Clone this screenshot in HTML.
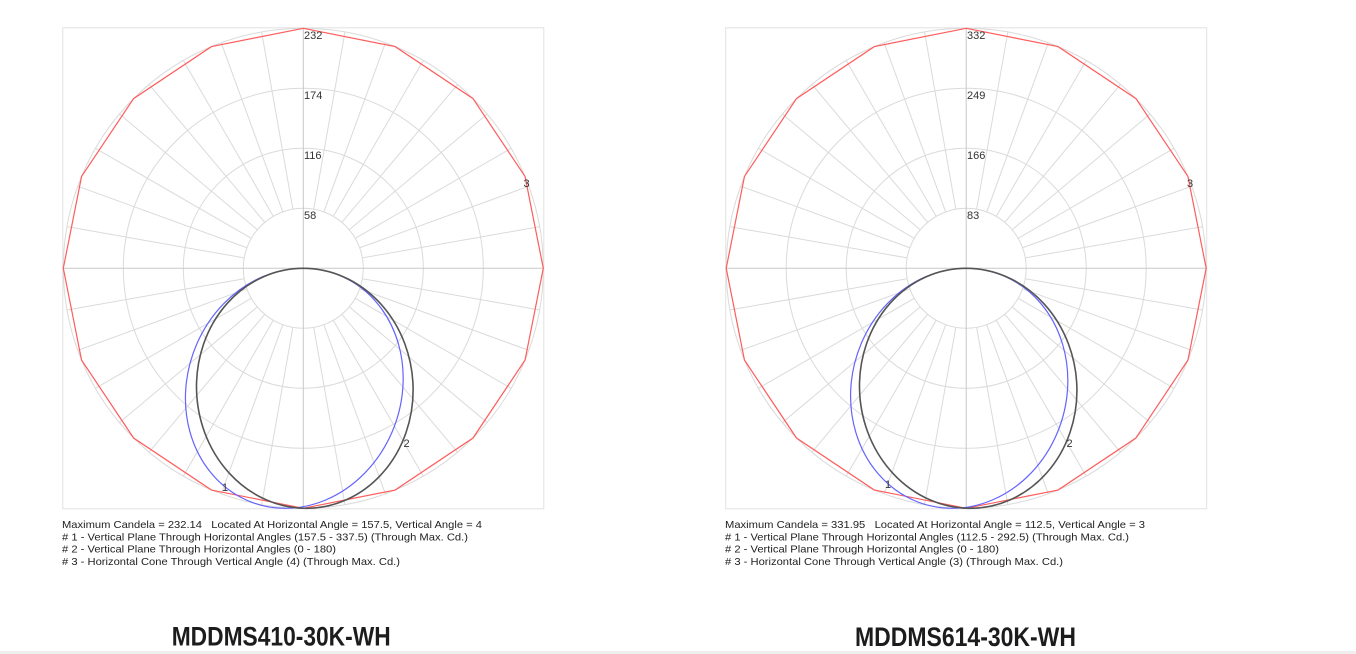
<!DOCTYPE html>
<html>
<head>
<meta charset="utf-8">
<style>
  html,body{margin:0;padding:0;background:#fff;}
  body{width:1356px;height:654px;overflow:hidden;}
  svg{display:block;}
  .tick{font-family:"Liberation Sans",Arial,sans-serif;font-size:11px;fill:#333;}
  .cap{font-family:"Liberation Sans",Arial,sans-serif;font-size:10.5px;fill:#222;white-space:pre;}
  .ttl{font-family:"Liberation Sans Narrow","Liberation Sans",Arial,sans-serif;font-size:27px;font-weight:bold;fill:#1c1c1c;}
</style>
</head>
<body>
<svg width="1356" height="654" viewBox="0 0 1356 654" xmlns="http://www.w3.org/2000/svg">
  <defs>
    <g id="grid">
      <rect x="-240.5" y="-240.5" width="481" height="481" fill="#fff" stroke="#e2e2e2" stroke-width="1"/>
      <g fill="none" stroke="#dadada" stroke-width="1">
        <circle r="60"/><circle r="120"/><circle r="180"/><circle r="240"/>
        <line x1="0" y1="-60" x2="0" y2="-240" transform="rotate(10)"/>
        <line x1="0" y1="-60" x2="0" y2="-240" transform="rotate(20)"/>
        <line x1="0" y1="-60" x2="0" y2="-240" transform="rotate(30)"/>
        <line x1="0" y1="-60" x2="0" y2="-240" transform="rotate(40)"/>
        <line x1="0" y1="-60" x2="0" y2="-240" transform="rotate(50)"/>
        <line x1="0" y1="-60" x2="0" y2="-240" transform="rotate(60)"/>
        <line x1="0" y1="-60" x2="0" y2="-240" transform="rotate(70)"/>
        <line x1="0" y1="-60" x2="0" y2="-240" transform="rotate(80)"/>
        <line x1="0" y1="-60" x2="0" y2="-240" transform="rotate(100)"/>
        <line x1="0" y1="-60" x2="0" y2="-240" transform="rotate(110)"/>
        <line x1="0" y1="-60" x2="0" y2="-240" transform="rotate(120)"/>
        <line x1="0" y1="-60" x2="0" y2="-240" transform="rotate(130)"/>
        <line x1="0" y1="-60" x2="0" y2="-240" transform="rotate(140)"/>
        <line x1="0" y1="-60" x2="0" y2="-240" transform="rotate(150)"/>
        <line x1="0" y1="-60" x2="0" y2="-240" transform="rotate(160)"/>
        <line x1="0" y1="-60" x2="0" y2="-240" transform="rotate(170)"/>
        <line x1="0" y1="-60" x2="0" y2="-240" transform="rotate(190)"/>
        <line x1="0" y1="-60" x2="0" y2="-240" transform="rotate(200)"/>
        <line x1="0" y1="-60" x2="0" y2="-240" transform="rotate(210)"/>
        <line x1="0" y1="-60" x2="0" y2="-240" transform="rotate(220)"/>
        <line x1="0" y1="-60" x2="0" y2="-240" transform="rotate(230)"/>
        <line x1="0" y1="-60" x2="0" y2="-240" transform="rotate(240)"/>
        <line x1="0" y1="-60" x2="0" y2="-240" transform="rotate(250)"/>
        <line x1="0" y1="-60" x2="0" y2="-240" transform="rotate(260)"/>
        <line x1="0" y1="-60" x2="0" y2="-240" transform="rotate(280)"/>
        <line x1="0" y1="-60" x2="0" y2="-240" transform="rotate(290)"/>
        <line x1="0" y1="-60" x2="0" y2="-240" transform="rotate(300)"/>
        <line x1="0" y1="-60" x2="0" y2="-240" transform="rotate(310)"/>
        <line x1="0" y1="-60" x2="0" y2="-240" transform="rotate(320)"/>
        <line x1="0" y1="-60" x2="0" y2="-240" transform="rotate(330)"/>
        <line x1="0" y1="-60" x2="0" y2="-240" transform="rotate(340)"/>
        <line x1="0" y1="-60" x2="0" y2="-240" transform="rotate(350)"/>
      </g>
      <g stroke="#c8c8c8" stroke-width="1">
        <line x1="-240" y1="0" x2="240" y2="0"/>
        <line x1="0" y1="-240" x2="0" y2="240"/>
      </g>
      <polygon fill="none" stroke="#ff5c5c" stroke-width="1.2"
        points="0,-240 91.84,-221.73 169.71,-169.71 221.73,-91.84 240,0 221.73,91.84 169.71,169.71 91.84,221.73 0,240 -91.84,221.73 -169.71,169.71 -221.73,91.84 -240,0 -221.73,-91.84 -169.71,-169.71 -91.84,-221.73"/>
    </g>
    <clipPath id="capclip"><rect x="0" y="510" width="1356" height="57"/></clipPath>
  </defs>

  <!-- LEFT PLOT -->
  <g transform="translate(303.3,268.3)">
    <use href="#grid"/>
    <circle r="1" fill="none" stroke="#6464ff" stroke-width="1.2" vector-effect="non-scaling-stroke" transform="matrix(108.5,0,-9,120,-9,120)"/>
    <circle r="1" fill="none" stroke="#555" stroke-width="1.6" vector-effect="non-scaling-stroke" transform="matrix(108.3,0,1.5,120,1.5,120)"/>
  </g>
  <text class="tick" x="304" y="39">232</text>
  <text class="tick" x="304" y="99">174</text>
  <text class="tick" x="304" y="159">116</text>
  <text class="tick" x="304" y="219">58</text>
  <text class="tick" x="523.5" y="187">3</text>
  <text class="tick" x="403.5" y="447">2</text>
  <text class="tick" x="222" y="491">1</text>

  <!-- RIGHT PLOT -->
  <g transform="translate(966.2,268.3)">
    <use href="#grid"/>
    <circle r="1" fill="none" stroke="#6464ff" stroke-width="1.2" vector-effect="non-scaling-stroke" transform="matrix(108.4,0,-7,120,-7,120)"/>
    <circle r="1" fill="none" stroke="#555" stroke-width="1.6" vector-effect="non-scaling-stroke" transform="matrix(108.7,0,2,120,2,120)"/>
  </g>
  <text class="tick" x="967" y="39">332</text>
  <text class="tick" x="967" y="99">249</text>
  <text class="tick" x="967" y="159">166</text>
  <text class="tick" x="967" y="219">83</text>
  <text class="tick" x="1187" y="187">3</text>
  <text class="tick" x="1066.5" y="447">2</text>
  <text class="tick" x="885" y="488">1</text>

  <!-- CAPTIONS -->
  <g clip-path="url(#capclip)">
    <text class="cap" x="62" y="528" textLength="420" lengthAdjust="spacingAndGlyphs">Maximum Candela = 232.14   Located At Horizontal Angle = 157.5, Vertical Angle = 4</text>
    <text class="cap" x="62" y="540.3" textLength="406" lengthAdjust="spacingAndGlyphs"># 1 - Vertical Plane Through Horizontal Angles (157.5 - 337.5) (Through Max. Cd.)</text>
    <text class="cap" x="62" y="552.6" textLength="274" lengthAdjust="spacingAndGlyphs"># 2 - Vertical Plane Through Horizontal Angles (0 - 180)</text>
    <text class="cap" x="62" y="565" textLength="338" lengthAdjust="spacingAndGlyphs"># 3 - Horizontal Cone Through Vertical Angle (4) (Through Max. Cd.)</text>

    <text class="cap" x="725" y="528" textLength="420" lengthAdjust="spacingAndGlyphs">Maximum Candela = 331.95   Located At Horizontal Angle = 112.5, Vertical Angle = 3</text>
    <text class="cap" x="725" y="540.3" textLength="404" lengthAdjust="spacingAndGlyphs"># 1 - Vertical Plane Through Horizontal Angles (112.5 - 292.5) (Through Max. Cd.)</text>
    <text class="cap" x="725" y="552.6" textLength="274" lengthAdjust="spacingAndGlyphs"># 2 - Vertical Plane Through Horizontal Angles (0 - 180)</text>
    <text class="cap" x="725" y="565" textLength="338" lengthAdjust="spacingAndGlyphs"># 3 - Horizontal Cone Through Vertical Angle (3) (Through Max. Cd.)</text>
  </g>

  <!-- TITLES -->
  <text class="ttl" x="171.7" y="645.7" textLength="219" lengthAdjust="spacingAndGlyphs">MDDMS410-30K-WH</text>
  <text class="ttl" x="855" y="646.2" textLength="221" lengthAdjust="spacingAndGlyphs">MDDMS614-30K-WH</text>

  <rect x="0" y="651" width="1356" height="3" fill="#efefef"/>
</svg>
</body>
</html>
